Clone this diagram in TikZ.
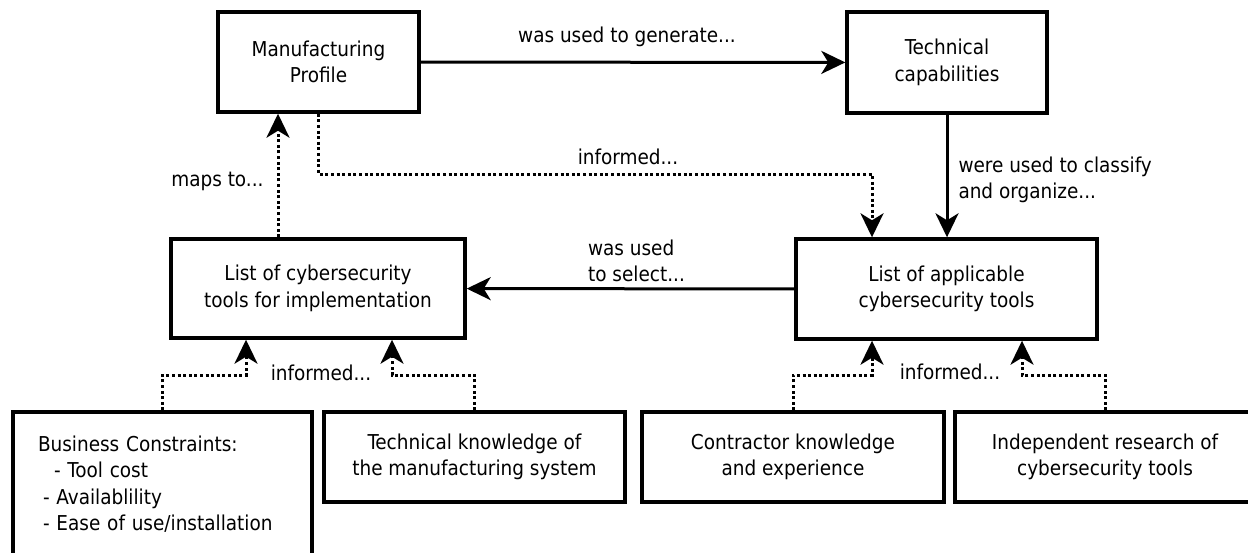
\documentclass[tikz,border=0pt]{standalone}
\usepackage{fontspec}
\setmainfont{DejaVu Sans Condensed}
\usetikzlibrary{arrows.meta}

\begin{document}
\begin{tikzpicture}[x=1pt, y=-1pt,
  font=\fontsize{20.5}{26.5}\selectfont,
  box/.style={draw, line width=3.4pt, align=center, inner sep=0pt},
  flow/.style={line width=3pt, -{Stealth[length=24pt, width=23pt, inset=7pt]}},
  hint/.style={flow, dash pattern=on 3pt off 2.6pt},
  lbl/.style={inner sep=0pt}]

  \useasboundingbox (0,0) rectangle (1248,552);

  % Top row
  \node[box, minimum width=201pt, minimum height=100pt] (mp) at (318.5,62) {Manufacturing\\Profile};
  \node[box, minimum width=200pt, minimum height=101pt] (tc) at (947,62.5) {Technical\\capabilities};

  % Middle row
  \node[box, minimum width=294pt, minimum height=99pt] (lc) at (318,288.5) {List of cybersecurity\\tools for implementation};
  \node[box, minimum width=301pt, minimum height=100pt] (la) at (946.5,289) {List of applicable\\cybersecurity tools};

  % Bottom row
  \node[box, minimum width=299pt, minimum height=144pt, text width=249pt, align=left] (bc) at (162.5,484)
      {Business Constraints:\\
       \hspace*{16pt}- Tool cost\\
       \hspace*{5pt}- Availablility\\
       \hspace*{5pt}- Ease of use/installation};
  \node[box, minimum width=301pt, minimum height=90pt] (tk) at (474.5,457) {Technical knowledge of\\the manufacturing system};
  \node[box, minimum width=302pt, minimum height=90pt] (ck) at (793,457) {Contractor knowledge\\and experience};
  \node[box, minimum width=300pt, minimum height=90pt] (ir) at (1105,457) {Independent research of\\cybersecurity tools};

  % Solid connectors
  \draw[flow] (mp) -- node[lbl, above=14pt, xshift=-6pt] (gen) {was used to generate...} (tc);
  \draw[flow] (tc.south) -- node[lbl, anchor=west, xshift=10pt, yshift=-4pt, align=left] (cls)
      {were used to classify\\and organize...} (tc.south |- la.north);
  \draw[flow] (la) -- node[lbl, pos=0.634, anchor=south west, yshift=5pt, align=left] (sel)
      {was used\\to select...} (lc);

  % Dotted connectors, top
  \coordinate (kn) at (872,174);
  \draw[hint] (mp.south) |- (kn) -- (kn |- la.north);
  \node[lbl] (inf1) at (628,157) {informed...};
  \draw[hint] ([xshift=-40pt]lc.north) -- node[lbl, pos=0.45, left=13pt] (map) {maps to...}
      ([xshift=-40pt]lc.north |- mp.south);

  % Dotted connectors, bottom left
  \coordinate (b1) at (246,375);
  \coordinate (b2) at (392,375);
  \draw[hint] (bc.north) |- (b1) -- (b1 |- lc.south);
  \draw[hint] (tk.north) |- (b2) -- (b2 |- lc.south);
  \node[lbl] (inf2) at (321,373) {informed...};

  % Dotted connectors, bottom right
  \coordinate (b3) at (872,375);
  \coordinate (b4) at (1022,375);
  \draw[hint] (ck.north) |- (b3) -- (b3 |- la.south);
  \draw[hint] (ir.north) |- (b4) -- (b4 |- la.south);
  \node[lbl] (inf3) at (950,372) {informed...};

\end{tikzpicture}
\end{document}
